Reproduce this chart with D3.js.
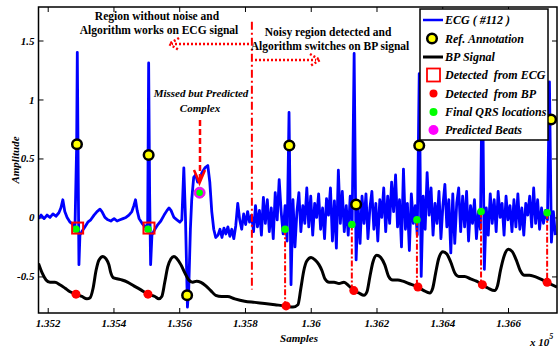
<!DOCTYPE html>
<html>
<head>
<meta charset="utf-8">
<script src="https://cdn.jsdelivr.net/npm/d3@7"></script>
<style>
  html, body { margin: 0; padding: 0; background: #ffffff; }
  svg text { font-family: "Liberation Serif", "Times New Roman", serif; font-weight: bold; }
</style>
</head>
<body>
<div id="chart"></div>
<script>
// tick values (samples)
const xTicks = [135200, 135400, 135600, 135800, 136000, 136200, 136400, 136600];
const yTicks = [-0.5, 0, 0.5, 1, 1.5];

// ECG, clean part: [sample, amplitude]
const ecgClean = [
  [135172, -0.01], [135180, 0.02], [135189, -0.01], [135198, 0.02], [135207, 0.00],
  [135216, 0.03], [135225, 0.01], [135234, 0.04], [135240, 0.08], [135246, 0.15],
  [135252, 0.05], [135259, 0.00], [135268, -0.04], [135277, -0.06], [135283, -0.08],
  [135288, 0.60], [135290, 1.40], [135293, 0.30], [135295, -0.40], [135298, -0.15],
  [135304, -0.12], [135313, -0.08], [135322, -0.04], [135331, -0.02], [135341, 0.02],
  [135350, 0.05], [135359, 0.07], [135365, 0.05], [135374, 0.00], [135383, -0.02],
  [135392, -0.03], [135402, -0.01], [135411, -0.03], [135420, -0.02], [135429, -0.01],
  [135438, 0.00], [135447, 0.02], [135456, 0.05], [135462, 0.10], [135467, 0.15],
  [135472, 0.06], [135478, -0.01], [135487, -0.05], [135496, -0.08], [135504, -0.06],
  [135507, 1.31], [135510, 0.20], [135513, -0.40], [135517, -0.15], [135526, -0.10],
  [135535, -0.06], [135544, -0.03], [135554, 0.02], [135563, 0.06], [135569, 0.08],
  [135575, 0.06], [135584, 0.00], [135593, -0.02], [135602, -0.04], [135608, -0.02],
  [135614, 0.42], [135619, 0.00], [135625, -0.76], [135629, -0.60], [135634, -0.10],
  [135638, 0.15], [135644, 0.34], [135650, 0.36], [135656, 0.30], [135663, 0.33],
  [135669, 0.38], [135678, 0.42], [135687, 0.44], [135693, 0.30], [135699, 0.05],
  [135705, -0.10], [135711, -0.17]
];

// ECG, noisy part: one value every 6 samples from 135718
const ecgNoisyStart = 135718;
const ecgNoisyStep = 6;
const ecgNoisy = [
  -0.15, -0.10, -0.17, -0.09, -0.14, -0.08, -0.16, -0.10, -0.18, -0.07,
  0.12, -0.02, -0.10, 0.03, -0.06, 0.05, -0.04, 0.02, -0.12, 0.10,
  -0.08, 0.06, -0.15, 0.17, -0.05, 0.15, -0.12, 0.08, -0.18, 0.21,
  -0.02, 0.32, 0.05, -0.14, 0.10, -0.20, 0.89, -0.57, 0.15, -0.25,
  0.05, 0.21, -0.12, 0.10, -0.05, 0.25, -0.08, 0.18, -0.15, 0.12,
  0.00, 0.20, -0.10, 0.08, -0.18, 0.16, 0.02, 0.25, -0.20, 0.14,
  -0.26, 0.40, -0.05, 0.22, -0.12, 0.10, -0.15, 0.18, -0.05, 1.39,
  -0.36, 0.10, -0.22, 0.18, -0.05, 0.20, -0.18, 0.08, 0.22, -0.10,
  0.12, -0.20, 0.15, 0.00, 0.25, -0.12, 0.18, -0.05, 0.30, 0.05,
  0.36, -0.08, 0.15, -0.25, 0.41, -0.10, 0.12, -0.28, 0.20, -0.05,
  0.10, -0.15, 1.22, -0.50, 0.18, -0.10, 0.38, 0.02, 0.25, -0.15,
  0.12, -0.05, 0.22, -0.18, 0.10, 0.28, -0.08, 0.15, -0.30, 0.20,
  -0.22, 0.12, 0.25, -0.12, 0.18, -0.08, 0.22, -0.20, 0.10, -0.05,
  0.15, -0.18, 0.05, -0.10, 1.35, -0.44, 0.08, -0.15, 0.20, -0.05,
  0.15, -0.12, 0.22, 0.00, 0.12, -0.15, 0.18, -0.02, 0.10, -0.12,
  0.15, -0.08, 0.20, -0.10, 0.08, -0.15, 0.12, 0.02, 0.18, -0.08,
  0.25, -0.05, 0.15, -0.10, 0.08, -0.05, 0.06, -0.02, 1.15, -0.21,
  0.05, -0.15
];

// BP signal: [sample, amplitude]
const bp = [
  [135172, -0.39], [135183, -0.47], [135195, -0.53], [135207, -0.55], [135222, -0.55],
  [135237, -0.57], [135253, -0.60], [135268, -0.63], [135286, -0.65], [135304, -0.67],
  [135319, -0.69], [135329, -0.68], [135338, -0.60], [135347, -0.45], [135356, -0.36],
  [135368, -0.33], [135377, -0.35], [135386, -0.40], [135392, -0.47], [135399, -0.51],
  [135411, -0.52], [135426, -0.53], [135444, -0.55], [135462, -0.58], [135481, -0.61],
  [135505, -0.65], [135526, -0.67], [135538, -0.69], [135547, -0.67], [135556, -0.55],
  [135565, -0.42], [135575, -0.35], [135584, -0.33], [135593, -0.35], [135605, -0.40],
  [135617, -0.47], [135629, -0.53], [135641, -0.55], [135653, -0.54], [135666, -0.55],
  [135681, -0.58], [135696, -0.62], [135711, -0.66], [135729, -0.67], [135747, -0.67],
  [135769, -0.69], [135799, -0.71], [135830, -0.72], [135860, -0.73], [135891, -0.74],
  [135922, -0.75], [135946, -0.76], [135961, -0.74], [135970, -0.60], [135979, -0.45],
  [135988, -0.37], [136001, -0.34], [136013, -0.36], [136025, -0.40], [136034, -0.45],
  [136043, -0.52], [136056, -0.55], [136071, -0.55], [136086, -0.56], [136101, -0.55],
  [136116, -0.58], [136131, -0.62], [136146, -0.64], [136162, -0.66], [136171, -0.63],
  [136180, -0.50], [136189, -0.38], [136201, -0.32], [136213, -0.34], [136225, -0.40],
  [136237, -0.50], [136249, -0.53], [136265, -0.53], [136280, -0.54], [136298, -0.56],
  [136326, -0.59], [136344, -0.62], [136362, -0.64], [136371, -0.60], [136380, -0.47],
  [136389, -0.35], [136402, -0.29], [136414, -0.31], [136426, -0.38], [136438, -0.47],
  [136450, -0.50], [136468, -0.50], [136486, -0.52], [136504, -0.54], [136522, -0.57],
  [136540, -0.60], [136559, -0.62], [136568, -0.58], [136577, -0.45], [136589, -0.32],
  [136601, -0.27], [136613, -0.29], [136625, -0.36], [136637, -0.45], [136650, -0.49],
  [136665, -0.49], [136680, -0.50], [136698, -0.52], [136719, -0.55], [136749, -0.59]
];

// beat markers: [sample, amplitude]
const refAnnotation = [[135289, 0.62], [135507, 0.53], [135624, -0.66], [135935, 0.61], [136138, 0.11], [136330, 0.61], [136731, 0.83]];
const detectedEcg = [[135291, -0.09], [135508, -0.09]];
const detectedBp = [[135286, -0.65], [135505, -0.65], [135925, -0.75], [136131, -0.62], [136326, -0.59], [136522, -0.57], [136719, -0.55]];
const finalQrs = [[135286, -0.10], [135505, -0.10], [135662, 0.21], [135922, -0.10], [136125, -0.06], [136323, -0.02], [136518, 0.05], [136719, 0.04]];
const predictedBeats = [[135662, 0.21]];
// BP detections carried up to the ECG in the noisy region: [sample, qrs amp, bp amp]
const bpLinks = [[135922, -0.10, -0.75], [136125, -0.06, -0.62], [136323, -0.02, -0.59], [136518, 0.05, -0.57], [136719, 0.04, -0.55]];
const switchSample = 135821;

function draw() {
  var width = 558, height = 347;
  var pL = 38.5, pR = 557, pT = 7, pB = 313;

  var svg = d3.select("#chart")
    .append("svg")
    .attr("width", width)
    .attr("height", height);

  var x = d3.scaleLinear()
    .domain([135172, 136749])
    .range([pL, pR]);

  var y = d3.scaleLinear()
    .domain([-0.81, 1.784])
    .range([pB, pT]);

  svg.append("defs").append("clipPath")
    .attr("id", "plotclip")
    .append("rect")
    .attr("x", pL).attr("y", pT)
    .attr("width", pR - pL).attr("height", pB - pT);

  // axes with inward ticks on all four sides
  var fmtX = function(d) { return +(d / 1e5).toFixed(3) + ""; };

  var xb = svg.append("g")
    .attr("transform", "translate(0," + pB + ")")
    .call(d3.axisBottom(x).tickValues(xTicks).tickSize(-5).tickPadding(6).tickFormat(fmtX));
  var xt = svg.append("g")
    .attr("transform", "translate(0," + pT + ")")
    .call(d3.axisTop(x).tickValues(xTicks).tickSize(-5).tickFormat(""));
  var yl = svg.append("g")
    .attr("transform", "translate(" + pL + ",0)")
    .call(d3.axisLeft(y).tickValues(yTicks).tickSize(-5).tickPadding(4).tickFormat(function(d) { return d + ""; }));
  var yr = svg.append("g")
    .attr("transform", "translate(" + pR + ",0)")
    .call(d3.axisRight(y).tickValues(yTicks).tickSize(-5).tickFormat(""));

  [xb, xt, yl, yr].forEach(function(g) {
    g.select(".domain").remove();
    g.selectAll("line").attr("stroke", "#000").attr("stroke-width", 1);
    g.selectAll("text")
      .style("font-size", "11px")
      .style("font-style", "italic")
      .style("font-weight", "bold")
      .style("font-family", "'Liberation Serif', serif")
      .attr("fill", "#000");
  });

  var plot = svg.append("g").attr("clip-path", "url(#plotclip)");

  var line = d3.line()
    .x(function(d) { return x(d[0]); })
    .y(function(d) { return y(d[1]); });

  var ecg = ecgClean.concat(ecgNoisy.map(function(v, i) { return [ecgNoisyStart + i * ecgNoisyStep, v]; }));

  plot.append("path")
    .datum(ecg)
    .attr("d", line)
    .attr("fill", "none")
    .attr("stroke", "#0000ff")
    .attr("stroke-width", 2.8)
    .attr("stroke-linejoin", "round");

  plot.append("path")
    .datum(bp)
    .attr("d", d3.line().x(function(d) { return x(d[0]); }).y(function(d) { return y(d[1]); }).curve(d3.curveMonotoneX))
    .attr("fill", "none")
    .attr("stroke", "#000")
    .attr("stroke-width", 3);

  // switch line between ECG and BP
  plot.append("line")
    .attr("x1", x(switchSample)).attr("x2", x(switchSample))
    .attr("y1", y(1.66)).attr("y2", y(-0.61))
    .attr("stroke", "#ff0000")
    .attr("stroke-width", 2)
    .attr("stroke-dasharray", "8,3,2,3");

  // dash-dot links from BP detections up to the QRS locations
  plot.selectAll("line.link")
    .data(bpLinks)
    .enter()
    .append("line")
    .attr("class", "link")
    .attr("x1", function(d) { return x(d[0]); })
    .attr("x2", function(d) { return x(d[0]); })
    .attr("y1", function(d) { return y(d[1]); })
    .attr("y2", function(d) { return y(d[2]); })
    .attr("stroke", "#ff0000")
    .attr("stroke-width", 2)
    .attr("stroke-dasharray", "6,2,2,2");

  plot.selectAll("circle.ref")
    .data(refAnnotation)
    .enter()
    .append("circle")
    .attr("class", "ref")
    .attr("cx", function(d) { return x(d[0]); })
    .attr("cy", function(d) { return y(d[1]); })
    .attr("r", 4.8)
    .attr("fill", "#ffff00")
    .attr("stroke", "#000")
    .attr("stroke-width", 2.5);

  plot.selectAll("circle.bp")
    .data(detectedBp)
    .enter()
    .append("circle")
    .attr("class", "bp")
    .attr("cx", function(d) { return x(d[0]); })
    .attr("cy", function(d) { return y(d[1]); })
    .attr("r", 4.5)
    .attr("fill", "#ff0000");

  plot.selectAll("circle.pred")
    .data(predictedBeats)
    .enter()
    .append("circle")
    .attr("class", "pred")
    .attr("cx", function(d) { return x(d[0]); })
    .attr("cy", function(d) { return y(d[1]); })
    .attr("r", 5.5)
    .attr("fill", "#ff00ff")
    .attr("stroke", "#cc33cc")
    .attr("stroke-width", 1);

  plot.selectAll("circle.qrs")
    .data(finalQrs)
    .enter()
    .append("circle")
    .attr("class", "qrs")
    .attr("cx", function(d) { return x(d[0]); })
    .attr("cy", function(d) { return y(d[1]); })
    .attr("r", function(d) { return predictedBeats.some(function(p) { return p[0] === d[0]; }) ? 3.3 : 3.8; })
    .attr("fill", "#00ff00");

  plot.selectAll("rect.ecgdet")
    .data(detectedEcg)
    .enter()
    .append("rect")
    .attr("class", "ecgdet")
    .attr("x", function(d) { return x(d[0]) - 5.5; })
    .attr("y", function(d) { return y(d[1]) - 5.5; })
    .attr("width", 11)
    .attr("height", 11)
    .attr("fill", "none")
    .attr("stroke", "#ff0000")
    .attr("stroke-width", 2);

  // frame
  svg.append("rect")
    .attr("x", pL).attr("y", pT)
    .attr("width", pR - pL).attr("height", pB - pT)
    .attr("fill", "none")
    .attr("stroke", "#000")
    .attr("stroke-width", 1.5);

  // annotations
  function label(txt, cx, cy, size, italic) {
    svg.append("text")
      .attr("x", cx)
      .attr("y", cy)
      .attr("text-anchor", "middle")
      .attr("dominant-baseline", "central")
      .style("font-size", size + "px")
      .style("font-style", italic ? "italic" : "normal")
      .style("fill", "#000")
      .text(txt);
  }
  label("Region without noise and", 157, 16, 11.5, false);
  label("Algorithm works on ECG signal", 159, 30, 11.5, false);
  label("Noisy region detected and", 328, 32, 11.5, false);
  label("Algorithm switches on BP signal", 330, 46, 11.5, false);
  label("Missed but Predicted", 201, 93, 11, true);
  label("Complex", 200, 108, 11, true);

  var red = svg.append("g")
    .attr("fill", "none")
    .attr("stroke", "#ff0000")
    .attr("stroke-width", 2.5);
  red.append("line").attr("x1", 249).attr("x2", 172).attr("y1", 44).attr("y2", 44).attr("stroke-dasharray", "2,2");
  red.append("polyline").attr("points", "179,38 169,44 179,50").attr("stroke-dasharray", "2,2");
  red.append("line").attr("x1", 255).attr("x2", 316).attr("y1", 60).attr("y2", 60).attr("stroke-dasharray", "2,2");
  red.append("polyline").attr("points", "310,54 320,60 310,66").attr("stroke-dasharray", "2,2");
  red.append("line").attr("x1", 200).attr("x2", 200).attr("y1", 120).attr("y2", 181).attr("stroke-dasharray", "6,3");
  red.append("polyline").attr("points", "194,170 199.5,183 205,170");

  // axis titles
  svg.append("text")
    .attr("transform", "translate(15,160) rotate(-90)")
    .attr("text-anchor", "middle")
    .attr("dominant-baseline", "central")
    .style("font-size", "11px")
    .style("font-style", "italic")
    .text("Amplitude");

  svg.append("text")
    .attr("x", 299)
    .attr("y", 338)
    .attr("text-anchor", "middle")
    .attr("dominant-baseline", "central")
    .style("font-size", "11px")
    .style("font-style", "italic")
    .text("Samples");

  var sci = svg.append("text")
    .attr("x", 530)
    .attr("y", 346)
    .style("font-size", "11px")
    .style("font-style", "italic");
  sci.append("tspan").text("x 10");
  sci.append("tspan").attr("dy", -7).style("font-size", "8px").text("5");

  // legend
  var lg = svg.append("g");
  lg.append("rect")
    .attr("x", 420).attr("y", 9)
    .attr("width", 128).attr("height", 131)
    .attr("fill", "#fff")
    .attr("stroke", "#000")
    .attr("stroke-width", 1.5);

  var legendItems = ["ECG ( #112 )", "Ref. Annotation", "BP Signal", "Detected\u00a0 from ECG", "Detected\u00a0 from BP", "Final QRS locations", "Predicted Beats"];
  var legendY = [20, 38.5, 57, 75, 93.5, 112, 130];

  lg.selectAll("text")
    .data(legendItems)
    .enter()
    .append("text")
    .attr("x", 445)
    .attr("y", function(d, i) { return legendY[i]; })
    .attr("dominant-baseline", "central")
    .style("font-size", "12px")
    .style("font-style", "italic")
    .text(function(d) { return d; });

  lg.append("line").attr("x1", 423).attr("x2", 443).attr("y1", legendY[0]).attr("y2", legendY[0]).attr("stroke", "#0000ff").attr("stroke-width", 2.5);
  lg.append("circle").attr("cx", 432).attr("cy", legendY[1]).attr("r", 4.8).attr("fill", "#ffff00").attr("stroke", "#000").attr("stroke-width", 2.5);
  lg.append("line").attr("x1", 423).attr("x2", 443).attr("y1", legendY[2]).attr("y2", legendY[2]).attr("stroke", "#000").attr("stroke-width", 3);
  lg.append("rect").attr("x", 427).attr("y", legendY[3] - 6.5).attr("width", 13).attr("height", 13).attr("fill", "none").attr("stroke", "#ff0000").attr("stroke-width", 1.8);
  lg.append("circle").attr("cx", 433.5).attr("cy", legendY[4]).attr("r", 4).attr("fill", "#ff0000");
  lg.append("circle").attr("cx", 433.5).attr("cy", legendY[5]).attr("r", 4).attr("fill", "#00ff00");
  lg.append("circle").attr("cx", 433.5).attr("cy", legendY[6]).attr("r", 5).attr("fill", "#ff00ff");
}

draw();
</script>
</body>
</html>
